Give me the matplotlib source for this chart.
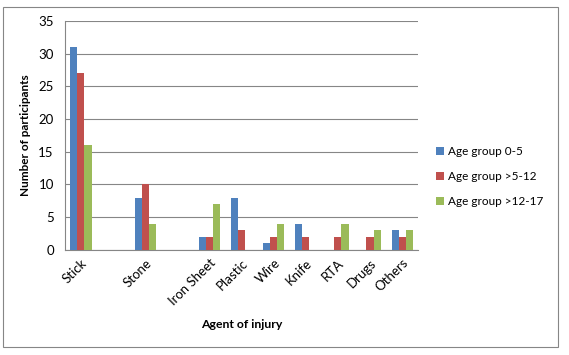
import matplotlib.pyplot as plt
import numpy as np
from matplotlib.patches import Rectangle

# Categorías (dos huecos vacíos como en el gráfico original)
categorias = ["Stick", "", "Stone", "", "Iron Sheet", "Plastic", "Wire",
              "Knife", "RTA", "Drugs", "Others"]
grupo_0_5 = [31, 0, 8, 0, 2, 8, 1, 4, 0, 0, 3]
grupo_5_12 = [27, 0, 10, 0, 2, 3, 2, 2, 2, 2, 2]
grupo_12_17 = [16, 0, 4, 0, 7, 0, 4, 0, 4, 3, 3]
etiquetas = ["Age group 0-5", "Age group >5-12", "Age group >12-17"]
colores = ["#4F81BD", "#C0504D", "#9BBB59"]

plt.rcParams["font.family"] = ["Lato", "DejaVu Sans"]


def main() -> None:
    fig = plt.figure(figsize=(5.69, 3.55), dpi=100)
    ax = fig.add_axes([0.114, 0.296, 0.621, 0.645])

    x = np.arange(len(categorias))
    ancho = 0.22
    series = [grupo_0_5, grupo_5_12, grupo_12_17]
    for k, (valores, etiqueta, color) in enumerate(zip(series, etiquetas, colores)):
        ax.bar(x + (k - 1) * ancho, valores, width=ancho, color=color,
               label=etiqueta, zorder=3)

    ax.set_xlim(-0.5, len(categorias) - 0.5)
    ax.set_ylim(0, 35)
    ax.set_yticks(range(0, 36, 5))
    ax.yaxis.grid(True, color="#868686", linewidth=0.8, zorder=0)
    ax.tick_params(axis="y", length=0, labelsize=9.5, pad=8)
    ax.tick_params(axis="x", length=0, labelsize=9.5, pad=5)
    ax.set_xticks(x)
    ax.set_xticklabels(categorias, rotation=45, ha="right", rotation_mode="anchor")

    for lado in ("top", "right"):
        ax.spines[lado].set_visible(False)
    for lado in ("left", "bottom"):
        ax.spines[lado].set_color("#868686")
        ax.spines[lado].set_linewidth(0.8)

    ax.set_ylabel("Number of participants", fontsize=8.5, fontweight="bold", labelpad=5)
    ax.set_xlabel("Agent of injury", fontsize=8.8, fontweight="bold", labelpad=8)

    ax.legend(loc="center left", bbox_to_anchor=(1.02, 0.32), frameon=False,
              fontsize=8.5, handlelength=0.7, handleheight=0.7,
              handletextpad=0.3, labelspacing=1.2)

    # Marco exterior del gráfico
    fig.patches.append(Rectangle((3 / 569, 1 - 347 / 355), 555 / 569, 340 / 355,
                                 transform=fig.transFigure, fill=False,
                                 edgecolor="#868686", linewidth=0.8))

    fig.savefig("out.png", dpi=100)
    plt.close(fig)


if __name__ == "__main__":
    main()
